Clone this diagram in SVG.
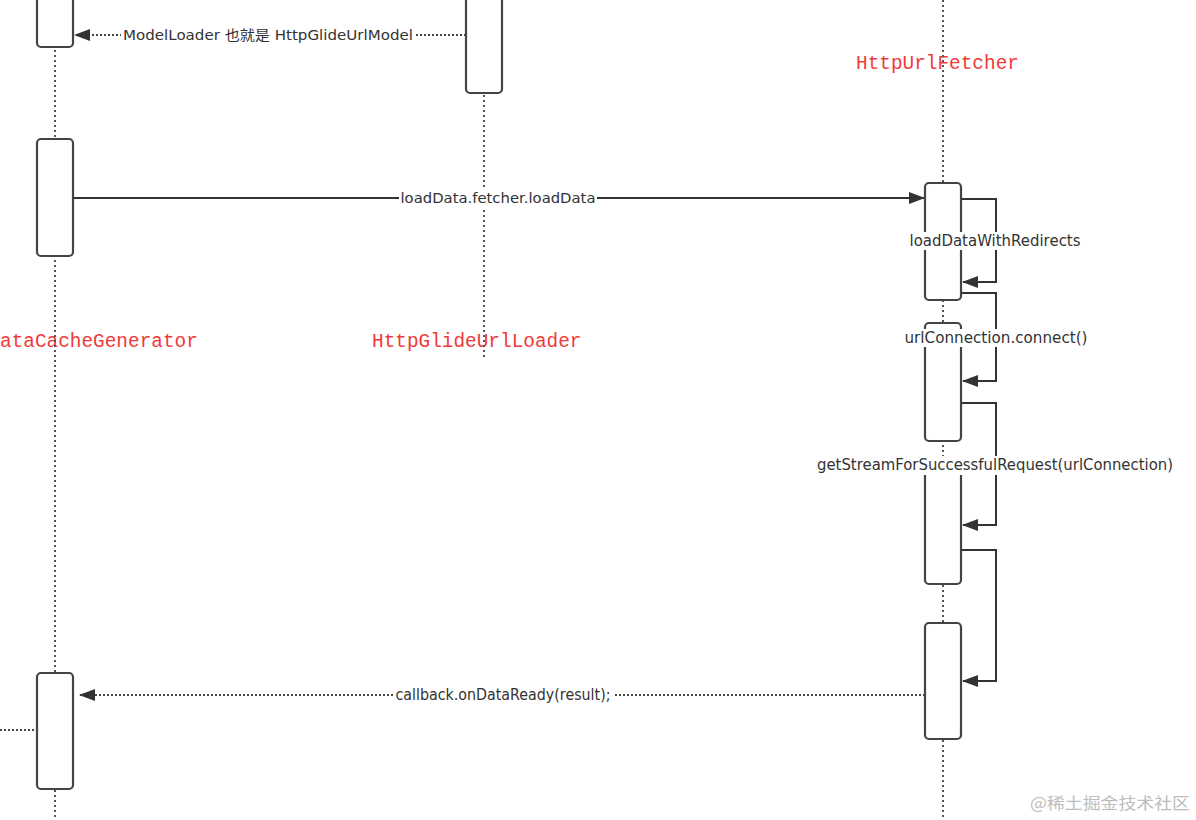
<svg xmlns="http://www.w3.org/2000/svg" width="1196" height="820" viewBox="0 0 1196 820">
<defs>
<style>
.life{stroke:#555;stroke-width:2;stroke-dasharray:2 3;fill:none}
.act{fill:#fff;stroke:#444;stroke-width:2.2}
.msg{stroke:#333;stroke-width:2;fill:none}
.ret{stroke:#444;stroke-width:2;stroke-dasharray:2 2;fill:none}
.lbl{font-family:"DejaVu Sans","Noto Sans CJK SC",sans-serif;font-size:15px;fill:#333;text-anchor:middle;dominant-baseline:central}
.bg{fill:#fff}
.part{font-family:"Liberation Mono","Noto Sans CJK SC",monospace;font-size:19.4px;fill:#f03a3a}
.wm{font-family:"Noto Sans CJK SC",sans-serif;font-size:16px;fill:#bdbdbd}
</style>
<marker id="ah" markerWidth="16" markerHeight="12" refX="15" refY="6" orient="auto" markerUnits="userSpaceOnUse">
<path d="M0,0 L16,6 L0,12 Z" fill="#333"/>
</marker>
</defs>
<rect width="1196" height="820" fill="#fff"/>

<g id="participant-labels">
<text class="part" x="0" y="347">ataCacheGenerator</text>
<text class="part" x="372" y="347">HttpGlideUrlLoader</text>
<text class="part" x="856" y="69">HttpUrlFetcher</text>
</g>

<g id="lifelines">
<line class="life" x1="55" y1="0" x2="55" y2="820"/>
<line class="life" x1="484" y1="0" x2="484" y2="360"/>
<line class="life" x1="943" y1="0" x2="943" y2="820"/>
</g>

<g id="connectors">
<line class="ret" x1="466" y1="35" x2="75" y2="35" marker-end="url(#ah)"/>
<line class="msg" x1="73" y1="198" x2="924" y2="198" marker-end="url(#ah)"/>
<polyline class="msg" points="961,199 996,199 996,282 963,282" marker-end="url(#ah)"/>
<polyline class="msg" points="961,293 996,293 996,381 963,381" marker-end="url(#ah)"/>
<polyline class="msg" points="961,403 996,403 996,525 963,525" marker-end="url(#ah)"/>
<polyline class="msg" points="961,550 996,550 996,681 963,681" marker-end="url(#ah)"/>
<line class="ret" x1="925" y1="695" x2="80" y2="695" marker-end="url(#ah)"/>
<line class="ret" x1="0" y1="730" x2="36" y2="730"/>
</g>

<g id="act-left-1"><rect class="act" x="37" y="-10" width="36" height="57" rx="4"/></g>
<g id="act-left-2"><rect class="act" x="37" y="139" width="36" height="117" rx="4"/></g>
<g id="act-left-3"><rect class="act" x="37" y="673" width="36" height="116" rx="4"/></g>
<g id="act-mid-1"><rect class="act" x="466" y="-10" width="36" height="103" rx="4"/></g>
<g id="act-right-1"><rect class="act" x="925" y="183" width="36" height="117" rx="4"/></g>
<g id="act-right-2"><rect class="act" x="925" y="323" width="36" height="118" rx="4"/></g>
<g id="act-right-3"><rect class="act" x="925" y="466" width="36" height="118" rx="4"/></g>
<g id="act-right-4"><rect class="act" x="925" y="623" width="36" height="116" rx="4"/></g>

<g id="message-labels">
<rect class="bg" x="121" y="27" width="294" height="17"/>
<text class="lbl" x="268" y="35" textLength="290" lengthAdjust="spacingAndGlyphs" style="font-size:14px">ModelLoader 也就是 HttpGlideUrlModel</text>
<rect class="bg" x="399" y="189" width="198" height="18"/>
<text class="lbl" x="498" y="198" textLength="195" lengthAdjust="spacingAndGlyphs" style="font-size:14px">loadData.fetcher.loadData</text>
<rect class="bg" x="907" y="232" width="176" height="18"/>
<text class="lbl" x="995" y="241" textLength="171" lengthAdjust="spacingAndGlyphs">loadDataWithRedirects</text>
<rect class="bg" x="903" y="329" width="187" height="18"/>
<text class="lbl" x="996" y="338" textLength="183" lengthAdjust="spacingAndGlyphs">urlConnection.connect()</text>
<rect class="bg" x="815" y="456" width="360" height="19"/>
<text class="lbl" x="995" y="465" textLength="356" lengthAdjust="spacingAndGlyphs">getStreamForSuccessfulRequest(urlConnection)</text>
<rect class="bg" x="394" y="686" width="219" height="18"/>
<text class="lbl" x="503" y="695" textLength="215" lengthAdjust="spacingAndGlyphs">callback.onDataReady(result);</text>
</g>

<text class="wm" x="1030" y="809" textLength="160" lengthAdjust="spacingAndGlyphs">@稀土掘金技术社区</text>
</svg>
